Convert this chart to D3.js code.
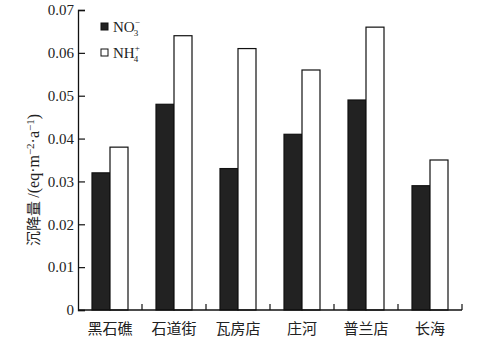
<!DOCTYPE html>
<html>
<head>
	<meta charset="utf-8">
	<title>沉降量</title>
	<script src="https://d3js.org/d3.v7.min.js"></script>
	<style>
		body { margin: 0; background: #fff; }
		text { font-family: "Liberation Serif", "Noto Sans CJK SC", serif; fill: #222; }
		.cjk { font-family: "Noto Sans CJK SC", sans-serif; }
	</style>
</head>
<body>
	<div class="chart"></div>

	<script type="text/javascript">
		// 数据
		var categories = ['黑石礁', '石道街', '瓦房店', '庄河', '普兰店', '长海']
		var no3 = [0.032, 0.048, 0.033, 0.041, 0.049, 0.029]
		var nh4 = [0.038, 0.064, 0.061, 0.056, 0.066, 0.035]
		var yTicks = [0, 0.01, 0.02, 0.03, 0.04, 0.05, 0.06, 0.07]

		var width = 484
		var height = 343
		var margin = { top: 10, right: 22, bottom: 33, left: 78 }
		var innerW = width - margin.left - margin.right
		var innerH = height - margin.top - margin.bottom

		var svg = d3.select('.chart').append('svg')
			.attr('width', width)
			.attr('height', height)

		var chart = svg.append('g').attr('transform', `translate(${margin.left}, ${margin.top})`)

		// 比例尺
		var x = d3.scaleBand().domain(categories).range([0, innerW]).padding(0)
		var y = d3.scaleLinear().domain([0, 0.07]).range([innerH, 0])
		var barW = 18

		// 柱子
		var groups = chart.selectAll('.grp')
			.data(categories)
			.enter()
			.append('g')
			.attr('transform', (d) => `translate(${x(d) + x.bandwidth() / 2}, 0)`)

		groups.append('rect')
			.attr('x', -barW)
			.attr('y', (d, i) => y(no3[i]))
			.attr('width', barW)
			.attr('height', (d, i) => innerH - y(no3[i]))
			.attr('fill', '#222')
			.attr('stroke', '#111')
			.attr('stroke-width', 1.2)

		groups.append('rect')
			.attr('x', 0)
			.attr('y', (d, i) => y(nh4[i]))
			.attr('width', barW)
			.attr('height', (d, i) => innerH - y(nh4[i]))
			.attr('fill', '#fff')
			.attr('stroke', '#111')
			.attr('stroke-width', 1.2)

		// y 轴（刻度朝内）
		var yAxis = chart.append('g')
			.call(d3.axisLeft(y).tickValues(yTicks).tickSize(-7).tickPadding(4)
				.tickFormat((d) => d === 0 ? '0' : d3.format('.2f')(d)))
		yAxis.attr('font-family', null)
		yAxis.select('.domain').attr('stroke', '#111').attr('stroke-width', 1.3)
		yAxis.selectAll('.tick line').attr('stroke', '#111').attr('stroke-width', 1.2)
		yAxis.selectAll('.tick text')
			.attr('x', -4)
			.attr('font-size', 15)
			.style('font-family', '"Liberation Serif", serif')

		// x 轴（分界刻度朝内）
		var bounds = categories.map((d) => x(d)).concat([innerW])
		var xAxis = chart.append('g').attr('transform', `translate(0, ${innerH})`)
		xAxis.append('line')
			.attr('x1', 0).attr('x2', innerW)
			.attr('stroke', '#111').attr('stroke-width', 1.3)
		xAxis.selectAll('.xt')
			.data(bounds.slice(1))
			.enter()
			.append('line')
			.attr('x1', (d) => d).attr('x2', (d) => d)
			.attr('y1', 0).attr('y2', -6)
			.attr('stroke', '#111').attr('stroke-width', 1.2)
		xAxis.selectAll('.xl')
			.data(categories)
			.enter()
			.append('text')
			.attr('class', 'cjk')
			.attr('x', (d) => x(d) + x.bandwidth() / 2)
			.attr('y', 24)
			.attr('text-anchor', 'middle')
			.attr('font-size', 15)
			.text((d) => d)

		// y 轴标题
		var title = svg.append('text')
			.attr('transform', 'translate(39, 180) rotate(-90)')
			.attr('text-anchor', 'middle')
			.attr('font-size', 16)
		title.append('tspan').attr('class', 'cjk').attr('font-size', 15).text('沉降量 ')
		title.append('tspan').text('/(eq·m')
		title.append('tspan').attr('font-size', 11).attr('baseline-shift', '45%').text('−2')
		title.append('tspan').text('·a')
		title.append('tspan').attr('font-size', 11).attr('baseline-shift', '45%').text('−1')
		title.append('tspan').text(')')

		// 图例
		var legend = chart.append('g').attr('transform', 'translate(23, 18)')
		var items = [
			{ fill: '#222', base: 'NO', sub: '3', sup: '−' },
			{ fill: '#fff', base: 'NH', sub: '4', sup: '+' }
		]
		var li = legend.selectAll('.li').data(items).enter().append('g')
			.attr('transform', (d, i) => `translate(0, ${i * 26})`)
		li.append('rect')
			.attr('x', 0).attr('y', -5)
			.attr('width', 7).attr('height', 7)
			.attr('fill', (d) => d.fill)
			.attr('stroke', '#111').attr('stroke-width', 1)
		var lt = li.append('text').attr('x', 12).attr('y', 4).attr('font-size', 15)
		lt.append('tspan').text((d) => d.base)
		lt.append('tspan').attr('font-size', 9).attr('dy', -7).text((d) => d.sup)
		lt.append('tspan').attr('font-size', 9).attr('dx', -6).attr('dy', 11).text((d) => d.sub)
	</script>
</body>
</html>
